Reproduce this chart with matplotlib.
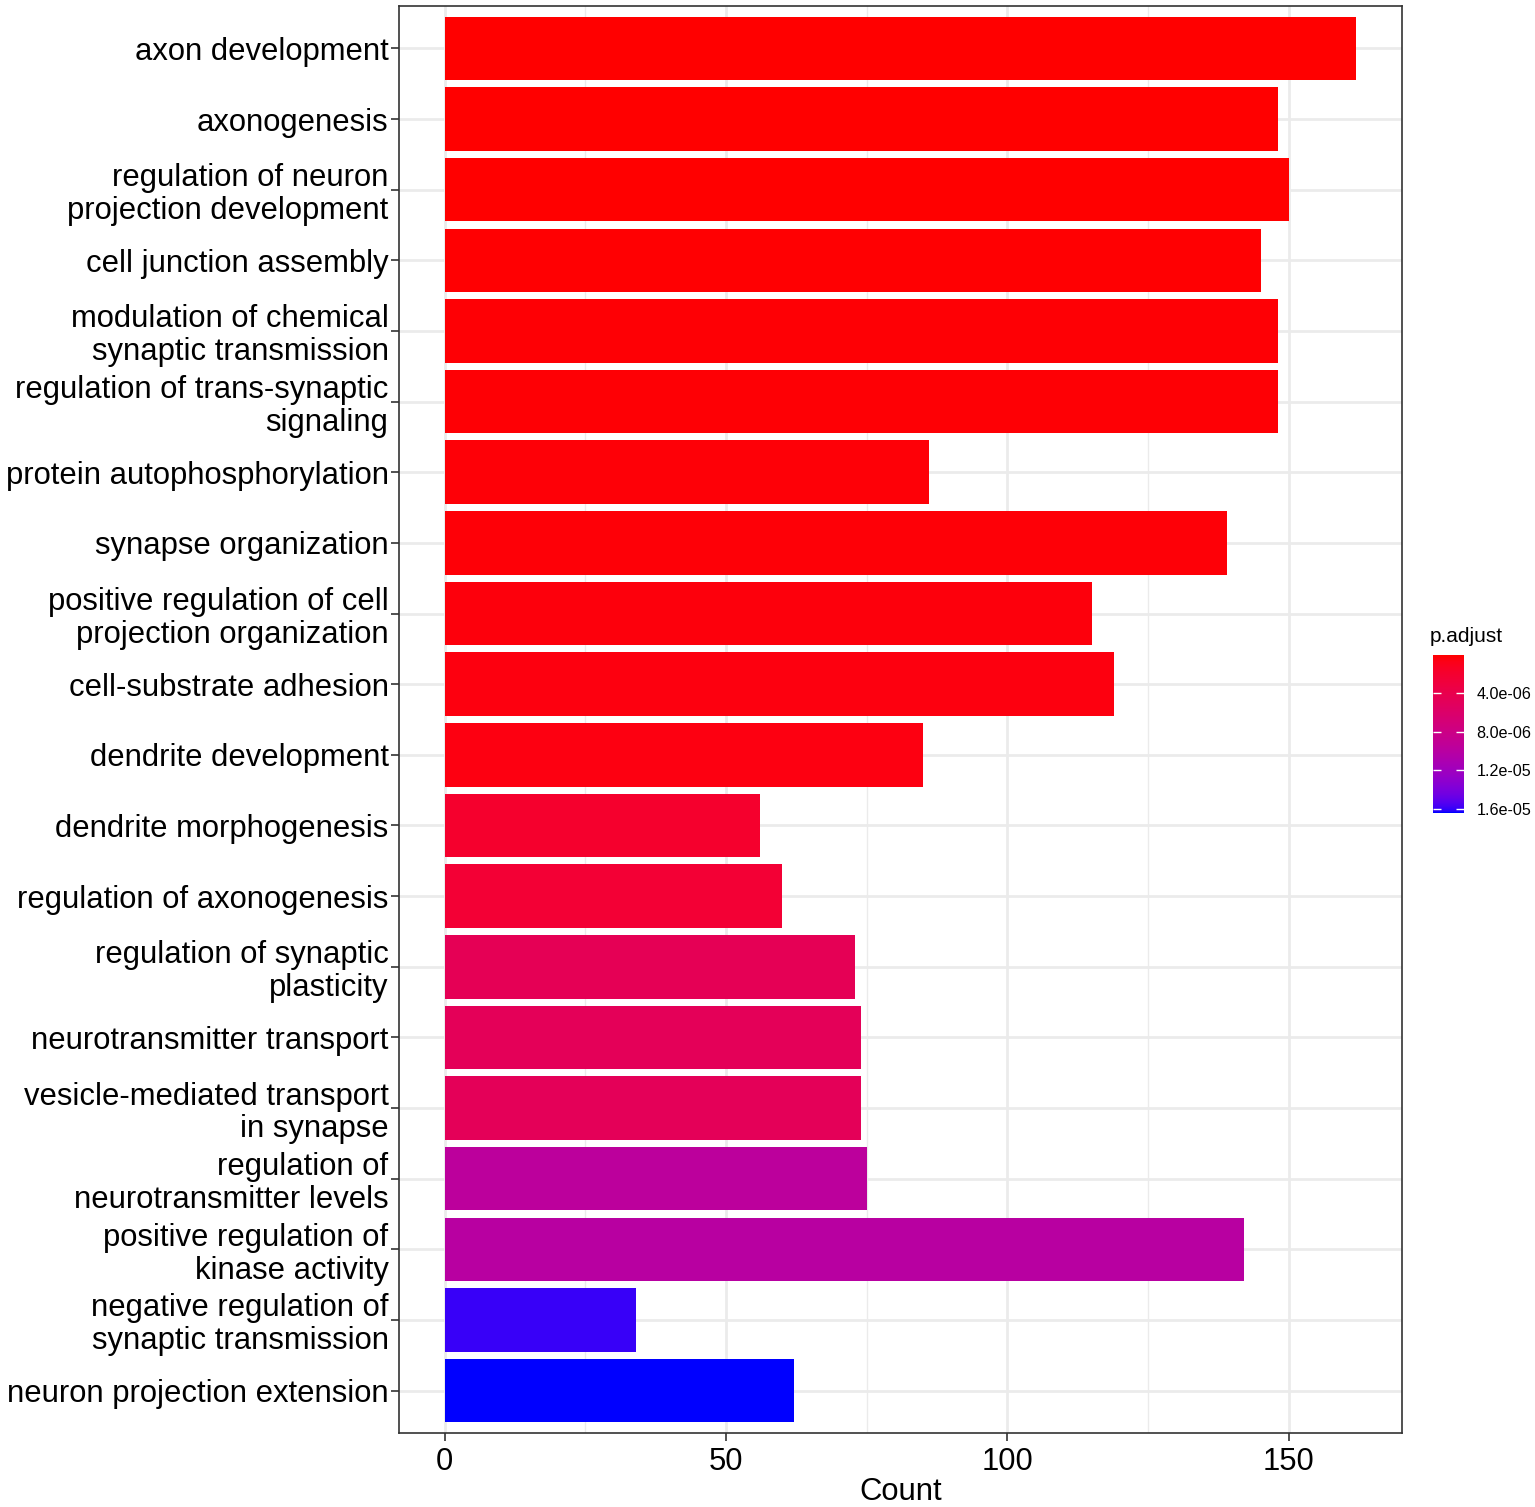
import numpy as np
import matplotlib
matplotlib.use("Agg")
import matplotlib.pyplot as plt
from matplotlib.colors import ListedColormap, Normalize
from matplotlib.cm import ScalarMappable

plt.rcParams['font.family'] = ['Liberation Sans', 'DejaVu Sans']

# GO terms, top to bottom
terms = [
    "axon development",
    "axonogenesis",
    "regulation of neuron\nprojection development",
    "cell junction assembly",
    "modulation of chemical\nsynaptic transmission",
    "regulation of trans-synaptic\nsignaling",
    "protein autophosphorylation",
    "synapse organization",
    "positive regulation of cell\nprojection organization",
    "cell-substrate adhesion",
    "dendrite development",
    "dendrite morphogenesis",
    "regulation of axonogenesis",
    "regulation of synaptic\nplasticity",
    "neurotransmitter transport",
    "vesicle-mediated transport\nin synapse",
    "regulation of\nneurotransmitter levels",
    "positive regulation of\nkinase activity",
    "negative regulation of\nsynaptic transmission",
    "neuron projection extension",
]
counts = [162, 148, 150, 145, 148, 148, 86, 139, 115, 119,
          85, 56, 60, 73, 74, 74, 75, 142, 34, 62]
p_adjust = [1.0e-7, 1.2e-7, 1.5e-7, 2.0e-7, 2.5e-7, 2.6e-7, 3.0e-7, 3.5e-7, 4.5e-7, 5.0e-7,
            6.0e-7, 1.9e-6, 2.4e-6, 4.6e-6, 4.8e-6, 4.8e-6, 9.6e-6, 1.0e-5, 1.59e-5, 1.64e-5]
cbar_ticks = [4e-6, 8e-6, 1.2e-5, 1.6e-5]


# red -> blue gradient interpolated in Lab space (like ggplot's scale_fill_continuous)
def srgb_to_lab(rgb):
    c = np.asarray(rgb, float)
    lin = np.where(c <= 0.04045, c / 12.92, ((c + 0.055) / 1.055) ** 2.4)
    M = np.array([[0.4124, 0.3576, 0.1805],
                  [0.2126, 0.7152, 0.0722],
                  [0.0193, 0.1192, 0.9505]])
    xyz = M @ lin / np.array([0.95047, 1.0, 1.08883])
    f = np.where(xyz > 0.008856, np.cbrt(xyz), 7.787 * xyz + 16 / 116)
    return np.array([116 * f[1] - 16, 500 * (f[0] - f[1]), 200 * (f[1] - f[2])])


def lab_to_srgb(lab):
    L, a, b = lab
    fy = (L + 16) / 116
    fx = fy + a / 500
    fz = fy - b / 200
    f = np.array([fx, fy, fz])
    xyz = np.where(f ** 3 > 0.008856, f ** 3, (f - 16 / 116) / 7.787)
    xyz = xyz * np.array([0.95047, 1.0, 1.08883])
    Minv = np.array([[3.2406, -1.5372, -0.4986],
                     [-0.9689, 1.8758, 0.0415],
                     [0.0557, -0.2040, 1.0570]])
    lin = np.clip(Minv @ xyz, 0, 1)
    c = np.where(lin <= 0.0031308, 12.92 * lin, 1.055 * lin ** (1 / 2.4) - 0.055)
    return np.clip(c, 0, 1)


lab_lo = srgb_to_lab([1, 0, 0])
lab_hi = srgb_to_lab([0, 0, 1])
cols = [lab_to_srgb(lab_lo + t * (lab_hi - lab_lo)) for t in np.linspace(0, 1, 256)]
cmap = ListedColormap(cols)
norm = Normalize(vmin=min(p_adjust), vmax=max(p_adjust))

fig = plt.figure(figsize=(15.35, 15.07), dpi=100)
ax = fig.add_axes([0.2599, 0.0491, 0.6535, 0.9469])

n = len(terms)
ypos = np.arange(n)[::-1] + 1
ax.barh(ypos, counts, height=0.9, color=cmap(norm(np.array(p_adjust))), zorder=3)

ax.set_xlim(-8.1, 170.1)
ax.set_ylim(0.4, n + 0.6)
ax.set_xticks([0, 50, 100, 150])
ax.set_xticks([25, 75, 125], minor=True)
ax.set_yticks(ypos)
ax.set_yticklabels(terms, fontsize=22.3, linespacing=1.12)
ax.tick_params(axis='x', labelsize=22.3, length=6, width=1.2, color='#333333', pad=4)
ax.tick_params(axis='y', length=6, width=1.2, color='#333333', pad=1.5)
ax.tick_params(axis='x', which='minor', length=0)
ax.grid(which='major', color='#ebebeb', linewidth=2.0, zorder=0)
ax.grid(which='minor', axis='x', color='#ebebeb', linewidth=1.0, zorder=0)
ax.set_axisbelow(True)
for s in ax.spines.values():
    s.set_color('#333333')
    s.set_linewidth(1.2)
ax.set_xlabel('Count', fontsize=22.3, labelpad=0)

# colour bar legend
cax = fig.add_axes([0.9336, 0.4605, 0.0202, 0.1048])
cb = fig.colorbar(ScalarMappable(norm=norm, cmap=cmap), cax=cax)
cb.outline.set_visible(False)
cax.invert_yaxis()
cb.set_ticks(cbar_ticks)
cb.set_ticklabels(['%.1e' % t for t in cbar_ticks])
cax.tick_params(axis='y', direction='in', left=True, right=True, length=6,
                width=1, color='white', labelsize=11.6, pad=9)
fig.text(0.9316, 0.5775, 'p.adjust', fontsize=15, ha='left', va='center')

fig.savefig('out.png', dpi=100)
